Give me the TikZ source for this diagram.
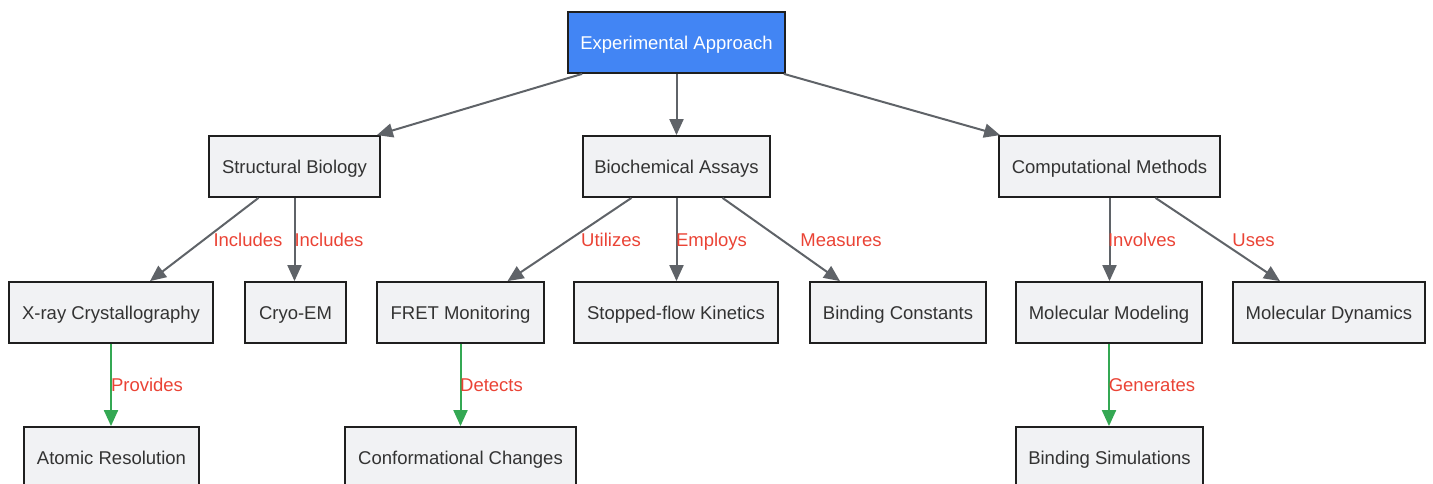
\documentclass[tikz,border=0pt]{standalone}
\usepackage{fontspec}
\setmainfont{Liberation Sans}
\usetikzlibrary{arrows.meta}
\definecolor{boxfill}{HTML}{F1F2F4}
\definecolor{boxline}{HTML}{1F1F1F}
\definecolor{txt}{HTML}{333333}
\definecolor{arrgray}{HTML}{5F6368}
\definecolor{arrgreen}{HTML}{34A853}
\definecolor{lblred}{HTML}{EA4335}
\definecolor{topblue}{HTML}{4285F4}
\tikzset{
  box/.style={draw=boxline, line width=1.8pt, fill=boxfill, text=txt, minimum height=61pt, inner sep=0pt, text height=13.3pt, text depth=0pt, font=\fontsize{18.5}{22}\selectfont},
  topbox/.style={box, fill=topblue, text=white},
  arr/.style={draw=arrgray, line width=2pt, -{Triangle[length=16pt,width=14pt]}},
  garr/.style={draw=arrgreen, line width=2pt, -{Triangle[length=16pt,width=14pt]}},
  lbl/.style={text=lblred, inner sep=0pt, text height=13.3pt, text depth=0pt, font=\fontsize{18.5}{22}\selectfont},
}
\begin{document}
\begin{tikzpicture}[x=1pt,y=-1pt]
\useasboundingbox (0,0) rectangle (1433,484);
\node[topbox, minimum width=217pt] (ea) at (676.5,42.5) {Experimental Approach};
\node[box, minimum width=171pt] (sb) at (294.5,166.5) {Structural Biology};
\node[box, minimum width=187pt] (ba) at (676.5,166.5) {Biochemical Assays};
\node[box, minimum width=221pt] (cm) at (1109.5,166.5) {Computational Methods};
\node[box, minimum width=204pt] (xr) at (111,312.5) {X-ray Crystallography};
\node[box, minimum width=101pt] (ce) at (295.5,312.5) {Cryo-EM};
\node[box, minimum width=167pt] (fr) at (460.5,312.5) {FRET Monitoring};
\node[box, minimum width=204pt] (sk) at (676,312.5) {Stopped-flow Kinetics};
\node[box, minimum width=176pt] (bc) at (898,312.5) {Binding Constants};
\node[box, minimum width=186pt] (mm) at (1109,312.5) {Molecular Modeling};
\node[box, minimum width=192pt] (md) at (1329,312.5) {Molecular Dynamics};
\node[box, minimum width=175pt] (ar) at (111.5,457.5) {Atomic Resolution};
\node[box, minimum width=231pt] (cc) at (460.5,457.5) {Conformational Changes};
\node[box, minimum width=187pt] (bs) at (1109.5,457.5) {Binding Simulations};

\draw[arr] ([xshift=15pt]ea.south west) -- ([xshift=-4pt]sb.north east);
\draw[arr] (ea.south) -- (ba.north);
\draw[arr] ([xshift=-2pt]ea.south east) -- ([xshift=2pt]cm.north west);

\draw[arr] ([xshift=-36pt]sb.south) -- ([xshift=39pt]xr.north) node[lbl] at (248,240) {Includes};
\draw[arr] (sb.south) -- (ce.north -| sb.south) node[lbl] at (329,240) {Includes};

\draw[arr] ([xshift=-45pt]ba.south) -- ([xshift=47pt]fr.north) node[lbl] at (611,240) {Utilizes};
\draw[arr] (ba.south) -- (sk.north -| ba.south) node[lbl] at (711.5,240) {Employs};
\draw[arr] ([xshift=46pt]ba.south) -- ([xshift=-58pt]bc.north) node[lbl] at (841,240) {Measures};

\draw[arr] (cm.south) -- (mm.north -| cm.south) node[lbl] at (1142,240) {Involves};
\draw[arr] ([xshift=46pt]cm.south) -- ([xshift=-49pt]md.north) node[lbl] at (1253.5,240) {Uses};

\draw[garr] (xr.south) -- (ar.north -| xr.south) node[lbl] at (147,385) {Provides};
\draw[garr] (fr.south) -- (cc.north) node[lbl] at (491.5,385) {Detects};
\draw[garr] (mm.south) -- (bs.north -| mm.south) node[lbl] at (1152,385) {Generates};
\end{tikzpicture}
\end{document}
